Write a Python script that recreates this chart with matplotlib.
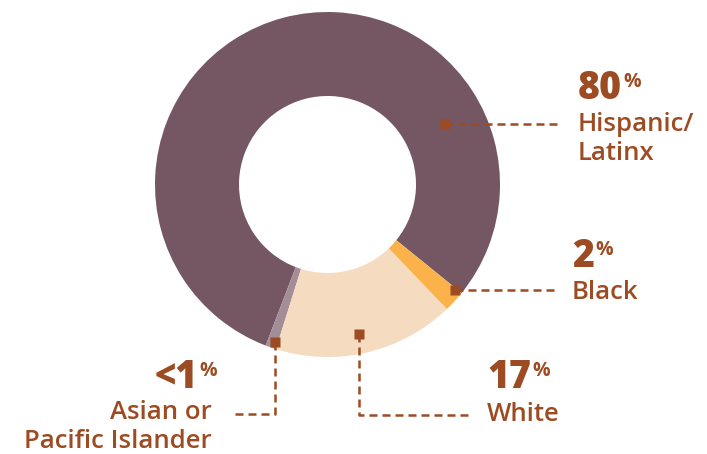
import matplotlib
matplotlib.use('Agg')
from matplotlib import pyplot as plt

# chart data
groups = ['Hispanic/\nLatinx', 'Asian or\nPacific Islander', 'White', 'Black']
shares = [80, 1, 17, 2]
share_labels = ['80', '<1', '17', '2']
colors = ['#755763', '#a38e97', '#f5dbc0', '#fbb24b']

W, H = 707, 454
brown = '#9c4b22'
plt.rcParams['font.family'] = ['Open Sans', 'DejaVu Sans']

fig = plt.figure(figsize=(W / 100, H / 100), dpi=100)
ax = fig.add_axes([0, 0, 1, 1])

ax.pie(shares, colors=colors, startangle=-39, counterclock=True,
       center=(327.5, H - 184.5), radius=172.5,
       wedgeprops=dict(width=84, linewidth=0), frame=False)
ax.set_xlim(0, W)
ax.set_ylim(0, H)
ax.set_aspect('equal')
ax.axis('off')

def y(v):
    return H - v

# leader lines: image-pixel points, first one gets the square marker
leaders = [
    [(445, 124), (557, 124)],
    [(275, 342), (275, 414), (230, 414)],
    [(359, 334), (359, 415), (472, 415)],
    [(455, 290), (557, 290)],
]
for pts in leaders:
    xs = [p[0] for p in pts]
    ys = [y(p[1]) for p in pts]
    ax.plot(xs, ys, color=brown, lw=1.8, ls=(0, (3.2, 2.0)), solid_capstyle='butt')
    ax.plot(xs[0], ys[0], marker='s', ms=7, color=brown, mec='none')

# label layout: (x, baseline of number, baseline of first name line, align)
label_pos = [
    (578, 99, 131, 'left'),
    (217, 388, 419, 'right'),
    (487, 388, 421, 'left'),
    (572, 267, 299, 'left'),
]

num_kw = dict(color=brown, fontsize=27, fontweight='heavy', va='baseline')
pct_kw = dict(color=brown, fontsize=14, fontweight='bold', va='baseline')
renderer = fig.canvas.get_renderer()

for i, (lx, nb, tb, ha) in enumerate(label_pos):
    if ha == 'left':
        num = ax.text(lx, y(nb), share_labels[i], ha='left', **num_kw)
        bb = num.get_window_extent(renderer)
        ax.text(bb.x1 + 1, y(nb - 12), '%', ha='left', **pct_kw)
    else:
        pct = ax.text(lx, y(nb - 12), '%', ha='right', **pct_kw)
        bb = pct.get_window_extent(renderer)
        ax.text(bb.x0 - 1, y(nb), share_labels[i], ha='right', **num_kw)
    name_x = lx if ha == 'left' else 212
    for j, line in enumerate(groups[i].split('\n')):
        ax.text(name_x, y(tb + 28.5 * j), line, color=brown, fontsize=18.5,
                fontweight='semibold', ha=ha, va='baseline')

fig.savefig('out.png', dpi=100)
